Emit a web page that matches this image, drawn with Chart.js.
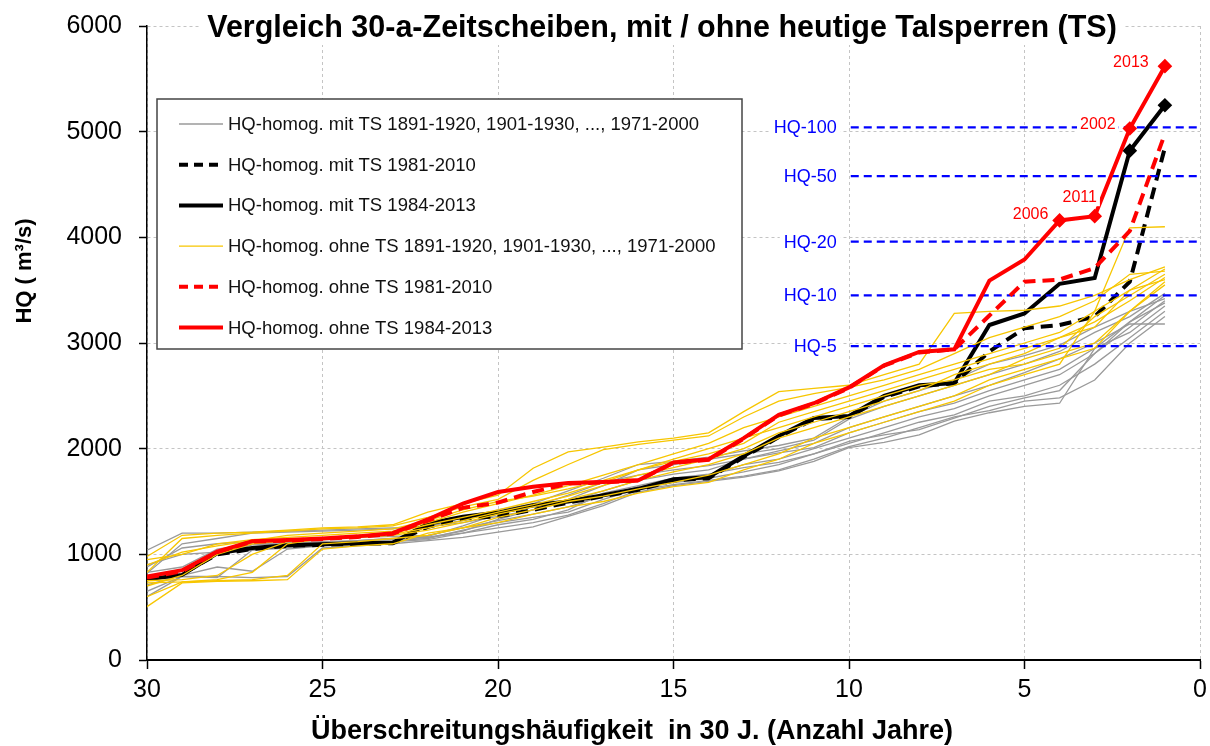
<!DOCTYPE html>
<html>
<head>
<meta charset="utf-8">
<script src="https://cdn.jsdelivr.net/npm/chart.js@4.4.1/dist/chart.umd.min.js"></script>
<style>
  html, body { margin: 0; padding: 0; background: #fff; }
</style>
</head>
<body>
<canvas id="chart" width="1210" height="746"></canvas>
<script>
  'use strict';

  /* Data: exceedance count in 30 years (x), HQ in m3/s (y) */
  const freq = [30, 29, 28, 27, 26, 25, 24, 23, 22, 21, 20, 19, 18, 17, 16, 15, 14, 13, 12, 11, 10, 9, 8, 7, 6, 5, 4, 3, 2, 1];
  const xTicks = [30, 25, 20, 15, 10, 5, 0];
  const yTicks = [0, 1000, 2000, 3000, 4000, 5000, 6000];

  const periods = ['1891-1920', '1901-1930', '1911-1940', '1921-1950', '1931-1960', '1941-1970', '1951-1980', '1961-1990', '1971-2000'];

  // mit TS, 30-a windows 1891-1920 ... 1971-2000
  const mitTS = [
    [600, 790, 790, 780, 790, 1060, 1080, 1100, 1130, 1160, 1210, 1260, 1360, 1460, 1590, 1650, 1690, 1730, 1790, 1880, 2010, 2060, 2130, 2260, 2340, 2400, 2430, 2950, 3100, 3350],
    [710, 800, 880, 840, 1050, 1080, 1100, 1120, 1140, 1200, 1250, 1300, 1370, 1480, 1610, 1660, 1700, 1740, 1800, 1900, 2020, 2100, 2200, 2300, 2360, 2450, 2480, 2650, 3000, 3250],
    [780, 800, 1000, 1090, 1100, 1110, 1120, 1130, 1150, 1230, 1300, 1350, 1400, 1520, 1620, 1680, 1720, 1780, 1850, 1950, 2050, 2150, 2250, 2320, 2450, 2500, 2600, 2800, 3050, 3300],
    [880, 1060, 1100, 1120, 1140, 1150, 1160, 1170, 1180, 1250, 1320, 1380, 1450, 1550, 1640, 1700, 1750, 1850, 1900, 2000, 2100, 2200, 2300, 2380, 2500, 2600, 2700, 2900, 3150, 3400],
    [1040, 1200, 1200, 1210, 1220, 1230, 1240, 1250, 1260, 1300, 1360, 1420, 1500, 1600, 1700, 1760, 1800, 1900, 1960, 2010, 2150, 2250, 2350, 2430, 2550, 2650, 2750, 2950, 3200, 3450],
    [900, 1000, 1020, 1040, 1060, 1100, 1130, 1150, 1170, 1270, 1380, 1450, 1560, 1680, 1750, 1800, 1840, 1900, 1980, 2050, 2200, 2300, 2400, 2500, 2600, 2720, 2850, 3000, 3180, 3180],
    [830, 880, 1050, 1100, 1110, 1120, 1130, 1150, 1160, 1220, 1330, 1420, 1520, 1650, 1800, 1850, 1900, 1950, 2000, 2080, 2280, 2400, 2500, 2600, 2700, 2800, 2920, 3100, 3250, 3470],
    [820, 1100, 1150, 1200, 1210, 1220, 1230, 1240, 1270, 1320, 1420, 1480, 1600, 1720, 1850, 1880, 1920, 1980, 2030, 2100, 2300, 2450, 2550, 2650, 2800, 2880, 2980, 3150, 3300, 3420],
    [650, 790, 780, 1040, 1080, 1100, 1120, 1140, 1160, 1200, 1280, 1330, 1420, 1580, 1650, 1720, 1760, 1820, 1870, 1950, 2070, 2130, 2180, 2290, 2400, 2480, 2550, 2900, 3200, 3380]
  ];

  // ohne TS, same windows
  const ohneTS = [
    [505, 730, 745, 750, 760, 1050, 1080, 1100, 1200, 1250, 1300, 1380, 1450, 1500, 1580, 1640, 1680, 1800, 1900, 2050, 2150, 2250, 2350, 2450, 2600, 2700, 2800, 3300, 3500, 3600],
    [730, 740, 760, 830, 1100, 1150, 1180, 1200, 1280, 1350, 1420, 1500, 1580, 1680, 1800, 1900, 2000, 2100, 2200, 2300, 2400, 2500, 2600, 2650, 2750, 2800, 2900, 3000, 3300, 3580],
    [980, 1180, 1200, 1210, 1230, 1250, 1260, 1280, 1400, 1480, 1560, 1815, 1970, 2015, 2065, 2100, 2150, 2350, 2540, 2570, 2600, 2700, 2800, 3280, 3300, 3310, 3350, 3450, 3600, 3720],
    [830, 1150, 1180, 1200, 1220, 1240, 1250, 1270, 1350, 1450, 1520, 1700, 1850, 1990, 2040, 2080, 2120, 2300, 2450, 2520, 2580, 2650, 2750, 2900, 3050, 3150, 3250, 3400, 3650, 3680],
    [950, 1000, 1100, 1140, 1160, 1180, 1200, 1220, 1300, 1400, 1480, 1560, 1650, 1750, 1850, 1950, 2050, 2200, 2300, 2400, 2500, 2600, 2700, 2800, 2900, 3000, 3100, 3300, 4090, 4100],
    [750, 760, 800, 1000, 1120, 1140, 1160, 1180, 1230, 1300, 1380, 1450, 1520, 1600, 1700, 1780, 1850, 1950, 2100, 2200, 2300, 2400, 2500, 2600, 2700, 2850, 2950, 3250, 3450, 3650],
    [700, 800, 1000, 1100, 1130, 1150, 1170, 1190, 1250, 1320, 1400, 1470, 1550, 1650, 1750, 1820, 1900, 2000, 2150, 2250, 2350, 2450, 2550, 2700, 2800, 2900, 3050, 3150, 3500, 3700],
    [900, 1020, 1080, 1130, 1180, 1200, 1220, 1240, 1320, 1420, 1500, 1550, 1620, 1700, 1800, 1880, 1950, 2050, 2250, 2350, 2450, 2550, 2650, 2750, 2850, 2950, 3050, 3200, 3400, 3620],
    [600, 740, 750, 760, 800, 1100, 1120, 1150, 1180, 1250, 1350, 1420, 1500, 1550, 1620, 1680, 1750, 1850, 1950, 2100, 2200, 2300, 2400, 2500, 2650, 2750, 2850, 2950, 3300, 3550]
  ];

  const mitTS8110 = [780, 815, 1000, 1050, 1080, 1090, 1100, 1105, 1260, 1340, 1360, 1420, 1490, 1550, 1610, 1700, 1720, 1920, 2110, 2280, 2300, 2490, 2590, 2620, 2920, 3140, 3170, 3250, 3580, 4850];
  const mitTS8413 = [765, 805, 1010, 1060, 1085, 1095, 1105, 1110, 1290, 1355, 1395, 1465, 1500, 1560, 1620, 1710, 1730, 1930, 2120, 2290, 2310, 2500, 2600, 2620, 3170, 3280, 3560, 3615, 4820, 5250];
  const ohneTS8110 = [780, 840, 1020, 1120, 1130, 1145, 1165, 1195, 1320, 1440, 1490, 1590, 1670, 1680, 1700, 1865, 1895, 2095, 2315, 2425, 2575, 2785, 2910, 2940, 3260, 3580, 3600, 3710, 4060, 4980];
  const ohneTS8413 = [790, 850, 1025, 1125, 1135, 1150, 1170, 1200, 1330, 1480, 1590, 1640, 1675, 1685, 1700, 1870, 1900, 2100, 2320, 2430, 2580, 2790, 2915, 2940, 3590, 3790, 4160, 4200, 5030, 5620];

  // flood levels
  const hqNames = ['HQ-100', 'HQ-50', 'HQ-20', 'HQ-10', 'HQ-5'];
  const hqValues = [5040, 4580, 3960, 3450, 2970];
  const hqFrom = 9.95;

  // labelled years on the red line (at exceedance count)
  const yearNames = ['2006', '2011', '2002', '2013'];
  const yearFreq = [4, 3, 2, 1];

  const FONT = '"Liberation Sans", Arial, sans-serif';
  const GRAY = '#9a9a9a';
  const YELLOW = '#f7c600';
  const RED = '#ff0000';
  const BLUE = '#0000ff';

  function toPoints(values) {
    return values.map(function (v, i) {
      return { x: freq[i], y: v };
    });
  }

  function lastMarkers(count) {
    return function (ctx) {
      return ctx.dataIndex >= freq.length - count ? 4.5 : 0;
    };
  }

  const datasets = [];

  mitTS.forEach(function (values, i) {
    datasets.push({
      label: 'HQ-homog. mit TS ' + periods[i],
      data: toPoints(values),
      borderColor: GRAY,
      borderWidth: 1.3,
      pointRadius: 0,
      order: 70
    });
  });

  datasets.push({
    label: 'HQ-homog. mit TS 1981-2010',
    data: toPoints(mitTS8110),
    borderColor: '#000',
    borderWidth: 4,
    borderDash: [12, 7],
    pointRadius: 0,
    order: 60
  });

  datasets.push({
    label: 'HQ-homog. mit TS 1984-2013',
    data: toPoints(mitTS8413),
    borderColor: '#000',
    backgroundColor: '#000',
    borderWidth: 4,
    pointStyle: 'rectRot',
    pointRadius: lastMarkers(2),
    order: 50
  });

  ohneTS.forEach(function (values, i) {
    datasets.push({
      label: 'HQ-homog. ohne TS ' + periods[i],
      data: toPoints(values),
      borderColor: YELLOW,
      borderWidth: 1.3,
      pointRadius: 0,
      order: 40
    });
  });

  hqValues.forEach(function (v, i) {
    datasets.push({
      label: hqNames[i],
      data: [{ x: hqFrom, y: v }, { x: 0, y: v }],
      borderColor: BLUE,
      borderWidth: 2.2,
      borderDash: [8, 5],
      pointRadius: 0,
      order: 30
    });
  });

  datasets.push({
    label: 'HQ-homog. ohne TS 1981-2010',
    data: toPoints(ohneTS8110),
    borderColor: RED,
    borderWidth: 4,
    borderDash: [12, 7],
    pointRadius: 0,
    order: 20
  });

  datasets.push({
    label: 'HQ-homog. ohne TS 1984-2013',
    data: toPoints(ohneTS8413),
    borderColor: RED,
    backgroundColor: RED,
    borderWidth: 4,
    pointStyle: 'rectRot',
    pointRadius: lastMarkers(4),
    order: 10
  });

  /* Legend box (drawn by hand, inside the plot) */
  const legendRows = [
    { text: 'HQ-homog. mit TS 1891-1920, 1901-1930, ..., 1971-2000', color: GRAY, width: 1.3, dash: [] },
    { text: 'HQ-homog. mit TS 1981-2010', color: '#000', width: 4, dash: [9, 6] },
    { text: 'HQ-homog. mit TS 1984-2013', color: '#000', width: 4, dash: [] },
    { text: 'HQ-homog. ohne TS 1891-1920, 1901-1930, ..., 1971-2000', color: YELLOW, width: 1.3, dash: [] },
    { text: 'HQ-homog. ohne TS 1981-2010', color: RED, width: 4, dash: [9, 6] },
    { text: 'HQ-homog. ohne TS 1984-2013', color: RED, width: 4, dash: [] }
  ];

  const legendBox = {
    id: 'legendBox',
    afterDatasetsDraw(chart) {
      const ctx = chart.ctx;
      const area = chart.chartArea;
      const left = area.left + 10, top = area.top + 73;
      const w = 585, h = 250;
      ctx.save();
      ctx.fillStyle = '#fff';
      ctx.fillRect(left, top, w, h);
      ctx.strokeStyle = '#444';
      ctx.lineWidth = 1.5;
      ctx.strokeRect(left, top, w, h);
      ctx.font = '18.5px ' + FONT;
      ctx.textBaseline = 'middle';
      ctx.textAlign = 'left';
      legendRows.forEach(function (row, i) {
        const y = top + 25 + i * 40.7;
        ctx.beginPath();
        ctx.setLineDash(row.dash);
        ctx.strokeStyle = row.color;
        ctx.lineWidth = row.width;
        ctx.moveTo(left + 22, y);
        ctx.lineTo(left + 66, y);
        ctx.stroke();
        ctx.setLineDash([]);
        ctx.fillStyle = '#111';
        ctx.fillText(row.text, left + 71, y + 1);
      });
      ctx.restore();
    }
  };

  /* HQ labels and year labels */
  const annotations = {
    id: 'annotations',
    afterDatasetsDraw(chart) {
      const ctx = chart.ctx;
      const xs = chart.scales.x, ys = chart.scales.y;
      ctx.save();
      ctx.textBaseline = 'middle';

      ctx.font = '18px ' + FONT;
      ctx.textAlign = 'right';
      hqValues.forEach(function (v, i) {
        const px = xs.getPixelForValue(hqFrom) - 14;
        const py = ys.getPixelForValue(v);
        const tw = ctx.measureText(hqNames[i]).width;
        ctx.fillStyle = '#fff';
        ctx.fillRect(px - tw - 4, py - 10, tw + 8, 20);
        ctx.fillStyle = BLUE;
        ctx.fillText(hqNames[i], px, py + 1);
      });

      const offsets = [[-29, -6], [-15, -19], [-32, -4], [-34, -4]];
      ctx.font = '16px ' + FONT;
      ctx.textAlign = 'center';
      yearNames.forEach(function (name, i) {
        const idx = freq.indexOf(yearFreq[i]);
        const px = xs.getPixelForValue(yearFreq[i]) + offsets[i][0];
        const py = ys.getPixelForValue(ohneTS8413[idx]) + offsets[i][1];
        const tw = ctx.measureText(name).width;
        ctx.fillStyle = '#fff';
        ctx.fillRect(px - tw / 2 - 3, py - 9, tw + 6, 18);
        ctx.fillStyle = RED;
        ctx.fillText(name, px, py);
      });
      ctx.restore();
    }
  };

  /* Chart title over the top grid line, and both axis titles */
  const titles = {
    id: 'titles',
    afterDraw(chart) {
      const ctx = chart.ctx;
      const text = 'Vergleich 30-a-Zeitscheiben, mit / ohne heutige Talsperren (TS)';
      ctx.save();
      ctx.font = 'bold 30.5px ' + FONT;
      ctx.textAlign = 'center';
      ctx.textBaseline = 'middle';
      const tw = ctx.measureText(text).width;
      const cx = 662, cy = 29;
      ctx.fillStyle = '#fff';
      ctx.fillRect(cx - tw / 2 - 8, cy - 18, tw + 16, 34);
      ctx.fillStyle = '#000';
      ctx.fillText(text, cx, cy);

      ctx.font = 'bold 27px ' + FONT;
      ctx.fillText('Überschreitungshäufigkeit  in 30 J. (Anzahl Jahre)', 632, 732);

      ctx.translate(25, 271);
      ctx.rotate(-Math.PI / 2);
      ctx.font = 'bold 22px ' + FONT;
      ctx.fillText('HQ ( m³/s)', 0, 0);
      ctx.restore();
    }
  };

  function initChart() {
    const ctx = document.getElementById('chart').getContext('2d');

    // eslint-disable-next-line no-undef
    return new Chart(ctx, {
      type: 'line',
      data: { datasets: datasets },
      options: {
        responsive: false,
        animation: false,
        devicePixelRatio: 1,
        layout: { padding: { top: 26, right: 10, left: 0, bottom: 0 } },
        elements: { line: { tension: 0, fill: false } },
        plugins: {
          legend: { display: false },
          tooltip: { enabled: false },
          title: { display: false }
        },
        scales: {
          x: {
            type: 'linear',
            min: 0,
            max: 30,
            reverse: true,
            afterBuildTicks(scale) {
              scale.ticks = xTicks.map(function (v) { return { value: v }; });
            },
            afterFit(scale) {
              scale.height = 86;
              scale.paddingLeft = 0;
              scale.paddingRight = 0;
            },
            grid: {
              color: '#c4c4c4',
              lineWidth: 1,
              tickColor: '#000',
              tickLength: 9,
              tickWidth: 1.5
            },
            border: { color: '#000', width: 2, dash: [3, 3] },
            ticks: {
              color: '#000',
              padding: 6,
              font: { family: FONT, size: 25 },
              maxRotation: 0,
              callback: function (v) { return String(v); }
            }
          },
          y: {
            min: 0,
            max: 6000,
            afterBuildTicks(scale) {
              scale.ticks = yTicks.map(function (v) { return { value: v }; });
            },
            afterFit(scale) {
              scale.width = 147;
              scale.paddingTop = 0;
              scale.paddingBottom = 0;
            },
            grid: {
              color: '#c4c4c4',
              lineWidth: 1,
              tickColor: '#000',
              tickLength: 8,
              tickWidth: 1.5
            },
            border: { color: '#000', width: 1.5, dash: [3, 3] },
            ticks: {
              color: '#000',
              padding: 17,
              font: { family: FONT, size: 25, lineHeight: 1 },
              callback: function (v) { return String(v); }
            }
          }
        }
      },
      plugins: [legendBox, annotations, titles]
    });
  }

  const app = function () {
    initChart();
  };

  app();
</script>
</body>
</html>
